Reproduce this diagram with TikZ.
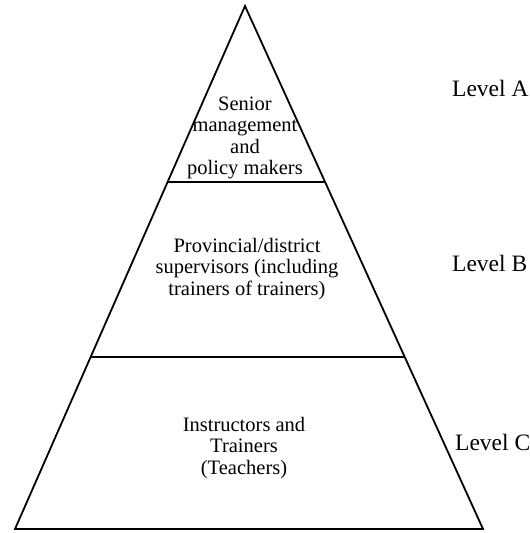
\documentclass[tikz,border=0pt]{standalone}
\usepackage{fontspec}
\setmainfont{Liberation Serif}
\usepackage{tikz}
\usetikzlibrary{positioning,calc}
\tikzstyle{edge} = [draw, line width=1.8pt]
\tikzstyle{tier} = [align=center, inner sep=0pt, font=\fontsize{20.5}{21.5}\selectfont]
\tikzstyle{lvl} = [anchor=west, inner sep=0pt, font=\fontsize{23.5}{25}\selectfont]

\begin{document}
\begin{tikzpicture}[x=1pt, y=-1pt]
	\useasboundingbox (0, 0) rectangle (530, 533);
	\coordinate (top) at (245, 6);
	\coordinate (bl) at (15, 529);
	\coordinate (br) at (483, 529);

	\draw[edge, line join=miter] (top) -- (bl) -- (br) -- cycle;
	\draw[edge] ($(top)!0.3365!(bl)$) -- ($(top)!0.3365!(br)$);
	\draw[edge] ($(top)!0.671!(bl)$) -- ($(top)!0.671!(br)$);

	\node[tier] (senior) at (245, 138) {Senior\\management\\and\\policy makers};
	\node[tier] (prov) at (247, 269) {Provincial/district\\supervisors (including\\trainers of trainers)};
	\node[tier] (instr) at (244, 448) {Instructors and\\Trainers\\(Teachers)};

	\node[lvl] (lvla) at (452, 88) {Level A};
	\node[lvl] (lvlb) at (452, 263) {Level B};
	\node[lvl] (lvlc) at (455, 442) {Level C};
\end{tikzpicture}
\end{document}
